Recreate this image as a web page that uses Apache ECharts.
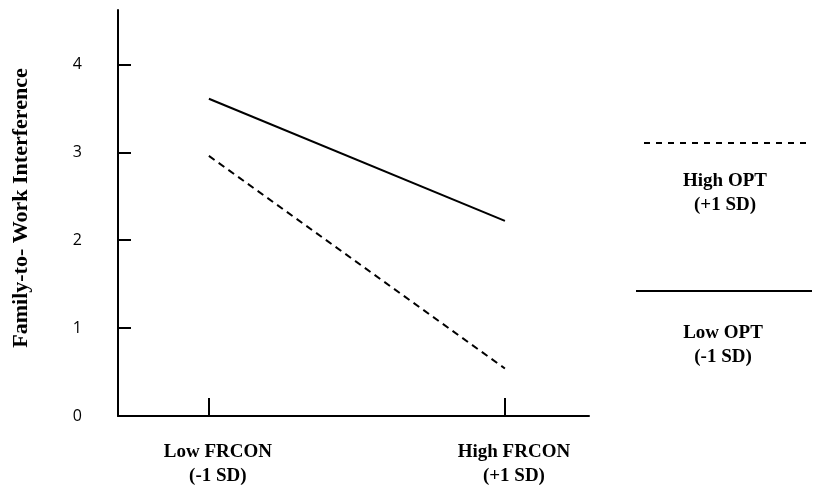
<!DOCTYPE html>
<html>
<head>
<meta charset="utf-8">
<script src="https://cdn.jsdelivr.net/npm/echarts@6/dist/echarts.min.js"></script>
<style>
html,body{margin:0;padding:0;background:#fff;}
#chart{width:813px;height:488px;}
</style>
</head>
<body>
<div id="chart"></div>
<script>
// Categories (x positions 0 and 1)
const categories = ['Low FRCON\n(-1 SD)', 'High FRCON\n(+1 SD)'];
const categoryPos = [0, 1];
// Series values
const lowOPT = [3.61, 2.22];   // solid
const highOPT = [2.96, 0.54];  // dashed
// Y tick labels
const yTicks = [0, 1, 2, 3, 4];
const legendNames = ['High OPT\n(+1 SD)', 'Low OPT\n(-1 SD)'];

const serif = '"Liberation Serif", "Times New Roman", serif';
const chart = echarts.init(document.getElementById('chart'), null, {renderer: 'canvas'});

chart.setOption({
  backgroundColor: '#fff',
  animation: false,
  grid: {left: 118, right: 224, top: 10, bottom: 70, containLabel: false},
  xAxis: {
    type: 'value',
    min: -0.307,
    max: 1.284,
    splitLine: {show: false},
    axisLine: {show: true, onZero: false, lineStyle: {color: '#000', width: 2}},
    axisTick: {show: true, inside: true, length: 18, customValues: categoryPos, lineStyle: {color: '#000', width: 2}},
    axisLabel: {
      show: true,
      customValues: categoryPos,
      margin: 24,
      formatter: v => categories[categoryPos.indexOf(Math.round(v))] || '',
      fontFamily: serif, fontWeight: 'bold', fontSize: 19, lineHeight: 24,
      color: '#000', align: 'center', padding: [0, 0, 0, 18]
    }
  },
  yAxis: {
    type: 'value',
    min: 0,
    max: 4.62,
    name: 'Family-to- Work Interference',
    nameLocation: 'middle',
    nameGap: 86,
    nameRotate: 90,
    nameTextStyle: {fontFamily: serif, fontWeight: 'bold', fontSize: 22, color: '#000', padding: [0, 0, 0, 10]},
    splitLine: {show: false},
    axisLine: {show: true, onZero: false, lineStyle: {color: '#000', width: 2}},
    axisTick: {show: true, inside: true, length: 13, customValues: yTicks, lineStyle: {color: '#000', width: 2}},
    axisLabel: {
      show: true, customValues: yTicks, margin: 36,
      fontFamily: '"Open Sans", "Noto Sans", sans-serif', fontSize: 16, color: '#000'
    }
  },
  series: [
    {
      name: 'Low OPT',
      type: 'line',
      data: categoryPos.map((x, i) => [x, lowOPT[i]]),
      symbol: 'none',
      lineStyle: {color: '#000', width: 2, type: 'solid'}
    },
    {
      name: 'High OPT',
      type: 'line',
      data: categoryPos.map((x, i) => [x, highOPT[i]]),
      symbol: 'none',
      lineStyle: {color: '#000', width: 2, type: [7, 5]}
    }
  ],
  graphic: [
    {type: 'line', shape: {x1: 644, y1: 143, x2: 808, y2: 143}, style: {stroke: '#000', lineWidth: 2, lineDash: [6, 6]}},
    {type: 'text', x: 725, y: 193, style: {text: legendNames[0], fontFamily: serif, fontWeight: 'bold', fontSize: 19, lineHeight: 24, fill: '#000', align: 'center', verticalAlign: 'middle'}},
    {type: 'line', shape: {x1: 636, y1: 291, x2: 812, y2: 291}, style: {stroke: '#000', lineWidth: 2}},
    {type: 'text', x: 723, y: 345, style: {text: legendNames[1], fontFamily: serif, fontWeight: 'bold', fontSize: 19, lineHeight: 24, fill: '#000', align: 'center', verticalAlign: 'middle'}}
  ]
});
</script>
</body>
</html>
